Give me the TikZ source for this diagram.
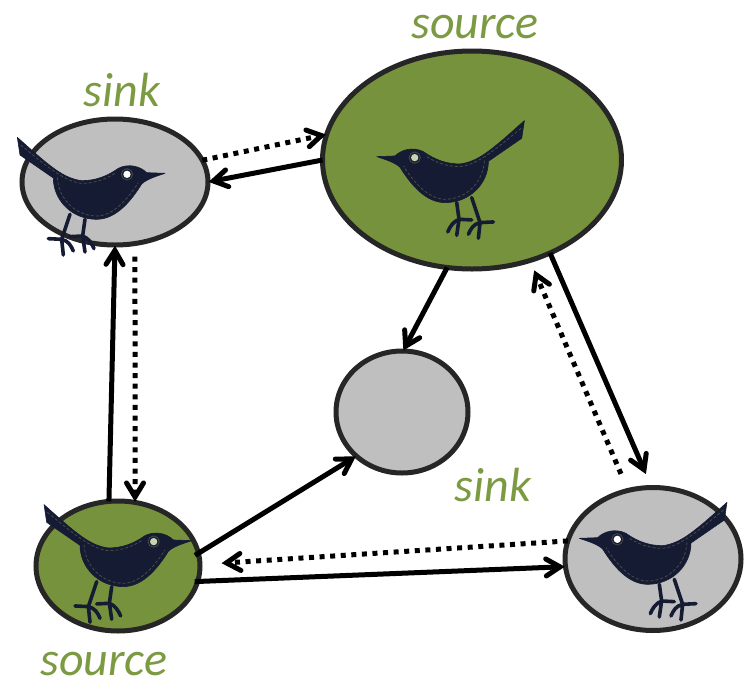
\documentclass[tikz,border=0pt]{standalone}
\usepackage{fontspec}
\setmainfont{Carlito}
\usetikzlibrary{arrows.meta,shapes.geometric}
\definecolor{leaf}{HTML}{76923C}
\definecolor{lab}{HTML}{7C9A42}
\definecolor{pale}{HTML}{BFBFBF}
\definecolor{rim}{HTML}{262626}
\definecolor{denim}{HTML}{151B33}
\definecolor{stitch}{HTML}{4A4A48}
\pgfdeclarearrow{
  name=vbarb,
  setup code={\pgfarrowssettipend{0pt}\pgfarrowssetlineend{-5pt}\pgfarrowssetbackend{-22pt}\pgfarrowssetvisualbackend{-5pt}},
  drawing code={
    \pgfsetdash{}{0pt}\pgfsetroundcap\pgfsetmiterjoin\pgfsetlinewidth{5pt}
    \pgfpathmoveto{\pgfqpoint{-19.5pt}{8.5pt}}
    \pgfpathlineto{\pgfqpoint{-5.5pt}{0pt}}
    \pgfpathlineto{\pgfqpoint{-19.5pt}{-8.5pt}}
    \pgfusepathqstroke}
}
\tikzset{
  x=1pt,y=-1pt,
  nodeoval/.style={ellipse,draw=rim,line width=5pt,inner sep=0pt,outer sep=0pt},
  lbl/.style={text=lab,font=\fontsize{48}{48}\selectfont\itshape,inner sep=0pt,anchor=base},
  link/.style={line width=5pt,draw=black,-{vbarb}},
  dotlink/.style={link,dash pattern=on 5pt off 5.6pt},
  birdbody/.style={fill=denim,draw=denim,line width=.6pt,line join=round},
  birdleg/.style={draw=denim,line width=3.6pt,line cap=round,line join=round},
  birdstitch/.style={draw=stitch,line width=.8pt,dash pattern=on 3pt off 2pt},
}
% bird drawn in units of 1/3 pixel, facing right
\newcommand{\bird}[4]{% xorigin, yorigin, xflip, eye colour
  \begin{scope}[shift={(#1,#2)},xscale=#3*0.3333,yscale=0.3333]
    \path[birdleg] (210,463) -- (185,538)
       (145,536) -- (185,538) .. controls (205,543) and (212,555) .. (220,573)
       (185,538) -- (190,585)
       (255,478) -- (248,528)
       (210,530) -- (248,528) .. controls (266,535) and (275,550) .. (282,566)
       (248,528) -- (255,576);
    \path[birdbody] (52,232) -- (60,285) -- (160,354)
       .. controls (160,420) and (215,478) .. (290,478)
       .. controls (350,478) and (395,420) .. (425,372)
       .. controls (440,358) and (465,350) .. (495,340)
       -- (440,338)
       .. controls (420,318) and (385,310) .. (355,325)
       .. controls (320,350) and (285,362) .. (245,362)
       .. controls (190,355) and (150,320) .. (52,232) -- cycle;
    \path[birdstitch] (172,352)
       .. controls (175,415) and (225,468) .. (290,468)
       .. controls (340,468) and (385,415) .. (415,368);
    \path[birdstitch] (62,255) .. controls (130,310) and (190,365) .. (245,370)
       .. controls (290,370) and (320,355) .. (345,340);
    \path[fill=#4] (381,343) circle[radius=11];
    \path[draw=stitch,line width=.8pt] (381,343) circle[radius=17];
  \end{scope}}
\begin{document}
\begin{tikzpicture}
\useasboundingbox (0,0) rectangle (750,678);
\node[nodeoval,fill=pale,minimum width=186pt,minimum height=126pt] (a) at (115,182) {};
\node[nodeoval,fill=leaf,minimum width=299pt,minimum height=218pt] (b) at (472,160) {};
\node[nodeoval,fill=pale,minimum width=132pt,minimum height=122pt] (c) at (402,412) {};
\node[nodeoval,fill=leaf,minimum width=164pt,minimum height=130pt] (d) at (118,566) {};
\node[nodeoval,fill=pale,minimum width=176pt,minimum height=143pt] (e) at (653,559) {};
\bird{0}{60}{1}{white}
\bird{541.7}{43.3}{-1}{leaf!40!white}
\bird{26.7}{427.3}{1}{leaf!40!white}
\bird{744.3}{425}{-1}{white}
\node[lbl] (la) at (122,106) {sink};
\node[lbl] (lb) at (475,38) {source};
\node[lbl] (le) at (493,501) {sink};
\node[lbl] (ld) at (104,675) {source};
\draw[dotlink] (a.14) -- (b.170);
\draw[link] (b.180) -- (a.0);
\draw[link] (d.98.6) -- (a.270);
\draw[dotlink,shorten <=13pt] (a.-72) -- (d.75);
\draw[link] (b.257) -- (c.89);
\draw[link,shorten >=14pt] (b.-50.8) -- (e.91.3);
\draw[dotlink,shorten <=18pt,shorten >=10pt] (e.110) -- (b.-60.2);
\draw[link,shorten <=-4pt] (d.9) -- (c.224);
\draw[link,shorten <=-3pt] (d.-11.6) -- (e.185.7);
\draw[dotlink,shorten >=21pt] (e.168) -- (d.1.7);
\end{tikzpicture}
\end{document}
